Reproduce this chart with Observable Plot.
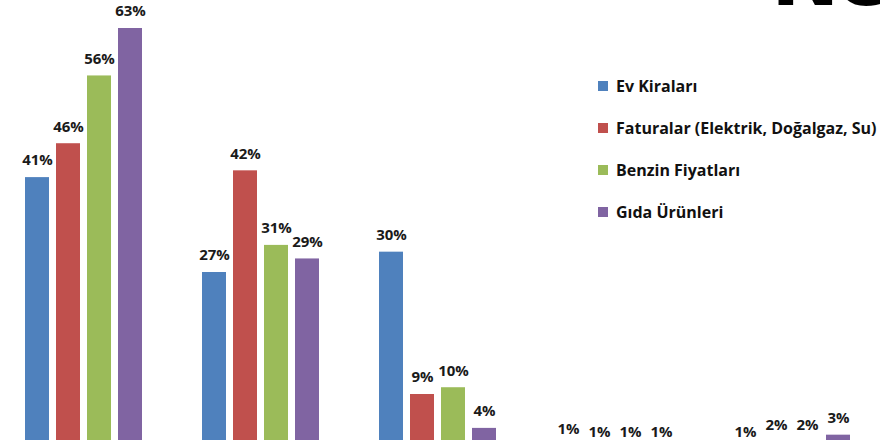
<!DOCTYPE html>
<html>
<head>
<meta charset="utf-8">
<script src="https://cdn.jsdelivr.net/npm/d3@7"></script>
<script src="https://cdn.jsdelivr.net/npm/@observablehq/plot@0.6"></script>
<style>
  html, body { margin: 0; padding: 0; background: #fff; overflow: hidden; }
  #wrap { position: relative; width: 880px; height: 440px; overflow: hidden; }
  #legend { position: absolute; left: 598px; top: 75px; font-family: "Open Sans", sans-serif; font-weight: bold; font-size: 16px; color: #111; }
  #legend .item { display: flex; align-items: center; height: 22px; margin-bottom: 20px; white-space: nowrap; }
  #legend .sw { width: 10px; height: 10px; margin-right: 8px; }
  #logo { position: absolute; left: 771px; top: -71px; font-family: "DejaVu Sans", sans-serif; font-weight: bold; font-size: 82px; color: #000; letter-spacing: -3px; }
</style>
</head>
<body>
<div id="wrap"></div>
<script>
// Data
const groups = ["Grup 1", "Grup 2", "Grup 3", "Grup 4", "Grup 5"];
const series = ["Ev Kiraları", "Faturalar (Elektrik, Doğalgaz, Su)", "Benzin Fiyatları", "Gıda Ürünleri"];
const colors = ["#4F81BD", "#C0504D", "#9BBB59", "#8064A2"];
const evKiralari = [41, 27, 30, 1.4, 1];
const faturalar  = [46, 42, 9, 1, 2];
const benzin     = [56, 31, 10, 1, 2];
const gida       = [63, 29, 4, 1, 3];

const seriesValues = [evKiralari, faturalar, benzin, gida];
const data = [];
groups.forEach((g, gi) => series.forEach((s, si) => data.push({group: g, series: s, value: seriesValues[si][gi]})));

const chart = Plot.plot({
  width: 880,
  height: 460,
  marginTop: 28,
  marginBottom: 5,
  marginLeft: 22,
  marginRight: 25,
  style: {background: "transparent", fontFamily: "'Open Sans', sans-serif"},
  fx: {domain: groups, paddingInner: 0.32, paddingOuter: 0, axis: null},
  x: {domain: series, paddingInner: 0.22, paddingOuter: 0, axis: null},
  y: {domain: [0, 63], axis: null},
  color: {domain: series, range: colors},
  marks: [
    Plot.barY(data, {fx: "group", x: "series", y: "value", fill: "series"}),
    Plot.text(data, {fx: "group", x: "series", y: "value", text: d => Math.round(d.value) + "%",
      dy: -17, fontSize: 15, fontWeight: "bold", fill: "#1a1a1a"})
  ]
});
const wrap = document.getElementById("wrap");
wrap.appendChild(chart);

const logo = document.createElement("div");
logo.id = "logo";
logo.textContent = "Ne";
wrap.appendChild(logo);

const legend = document.createElement("div");
legend.id = "legend";
series.forEach((s, i) => {
  const item = document.createElement("div");
  item.className = "item";
  const sw = document.createElement("span");
  sw.className = "sw";
  sw.style.background = colors[i];
  const label = document.createElement("span");
  label.textContent = s;
  item.appendChild(sw);
  item.appendChild(label);
  legend.appendChild(item);
});
wrap.appendChild(legend);
</script>
</body>
</html>
